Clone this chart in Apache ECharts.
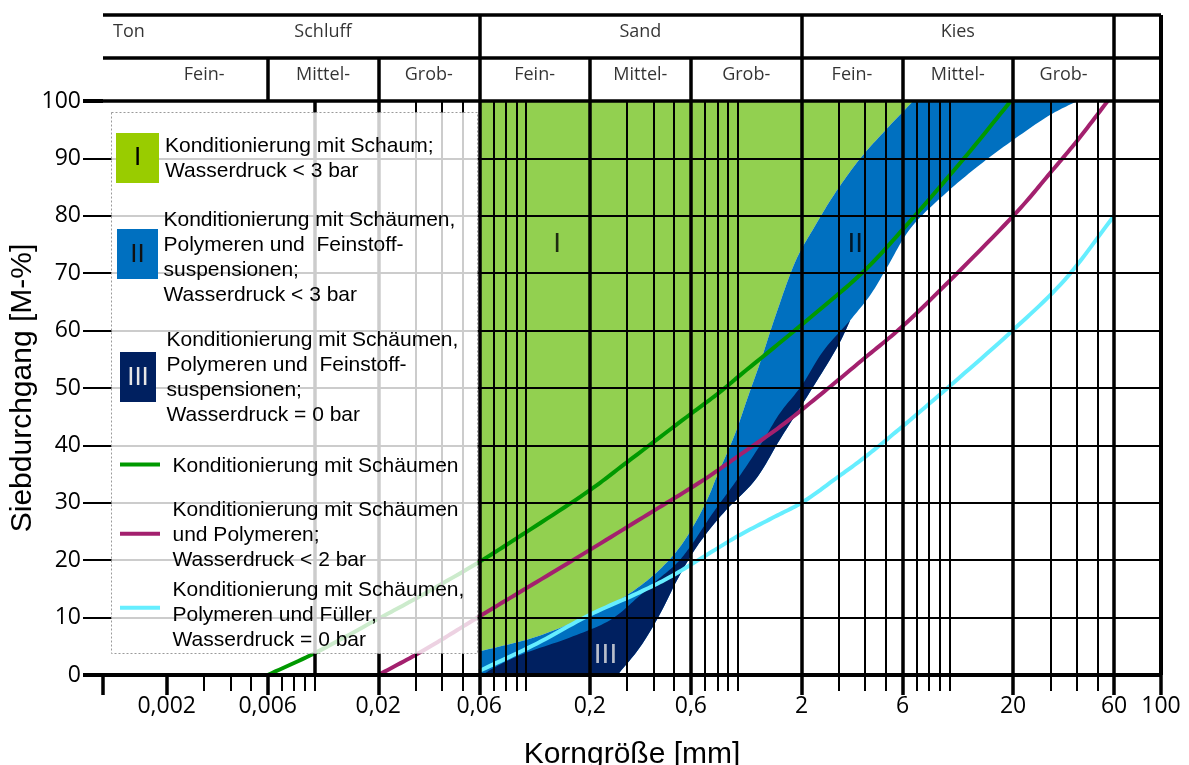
<!DOCTYPE html>
<html lang="de">
<head>
<meta charset="utf-8">
<title>Sieblinien und Konditionierungsbereiche</title>
<script src="https://cdn.jsdelivr.net/npm/echarts@6/dist/echarts.min.js"></script>
<style>
  html, body { margin: 0; padding: 0; background: #fff; }
  #chart { width: 1189px; height: 765px; }
</style>
</head>
<body>
<div id="chart"></div>
<script>
// Korngröße in mm, Siebdurchgang in M-%

// ---- Achsen ----
const sizeMin = 0.001;
const sizeMax = 100;
const majorSizes = [0.001, 0.002, 0.006, 0.02, 0.06, 0.2, 0.6, 2, 6, 20, 60, 100];
const minorSizes = [0.003, 0.004, 0.005, 0.007, 0.008, 0.009, 0.01,
                    0.03, 0.04, 0.05, 0.07, 0.08, 0.09, 0.1,
                    0.3, 0.4, 0.5, 0.7, 0.8, 0.9, 1,
                    3, 4, 5, 7, 8, 9, 10,
                    30, 40, 50];
const sizeLabelValues = [0.002, 0.006, 0.02, 0.06, 0.2, 0.6, 2, 6, 20, 60, 100];
const sizeLabels = ['0,002', '0,006', '0,02', '0,06', '0,2', '0,6', '2', '6', '20', '60', '100'];
const percentTicks = [0, 10, 20, 30, 40, 50, 60, 70, 80, 90, 100];

// ---- Kopfzeile: Bodenarten ----
const mainClassNames = ['Ton', 'Schluff', 'Sand', 'Kies'];
const mainClassBounds = [0.001, 0.002, 0.06, 2, 60];
const subClassNames = ['Fein-', 'Mittel-', 'Grob-'];
const subClassBounds = [0.002, 0.006, 0.02, 0.06, 0.2, 0.6, 2, 6, 20, 60];

// ---- Bereiche I, II, III ----
// Grenze zwischen Bereich I und Bereich II (fein -> grob)
const boundaryI_II = [
  [0.06, 4.1], [0.1125, 6.7], [0.2, 10.5], [0.29, 13.6], [0.4, 17.4], [0.52, 21.8],
  [0.64, 27], [0.74, 31.7], [0.783, 34], [0.97, 42], [1.125, 48.8], [1.28, 54.6],
  [1.53, 63.3], [1.9, 72.6], [2.28, 77.8], [2.84, 83.6], [3.79, 90], [5.07, 95.2], [6.75, 100]
];
// grobe Grenze von Bereich II oberhalb von Bereich III (grob -> fein)
const zoneIIRight = [
  [40.2, 100], [30, 97.6], [20, 93.2], [13.5, 88.5], [9.39, 83.6], [6.54, 77.8],
  [5.07, 71], [4.23, 66.2], [3.4, 61.8]
];
// grobe Grenze von Bereich III (grob -> fein)
const zoneIIIRight = [
  [3.4, 61.8], [2.99, 57.5], [2.15, 48.8], [1.58, 41], [1.21, 34], [0.854, 28.2],
  [0.641, 22.4], [0.516, 16.5], [0.43, 10.7], [0.346, 4.9], [0.27, 0]
];
// feine Grenze von Bereich III (fein -> grob)
const zoneIIILeft = [
  [0.062, 0], [0.07, 1.2], [0.094, 3.5], [0.16, 6.5], [0.25, 9.6], [0.334, 13.4],
  [0.415, 16.5], [0.516, 19.5], [0.597, 22.4], [0.755, 28], [0.991, 34], [1.3, 40.5],
  [1.58, 45.6], [2.0, 50.4], [2.54, 56.5], [3.4, 61.8]
];
const zoneNames = ['I', 'II', 'III'];
const zoneLabelPos = [[0.14, 75], [3.59, 75], [0.237, 3.5]];

// ---- Sieblinien ----
const foamLine = [
  [0.006, 0], [0.01, 3.8], [0.02, 9.8], [0.03, 13.3], [0.06, 19.7], [0.1, 24.9],
  [0.2, 32.2], [0.3, 37.1], [0.6, 45.5], [0.83, 49.4], [1, 51.9], [2, 61],
  [3.93, 70.3], [6.08, 77.8], [12.1, 90.6], [19.5, 100]
];
const polymerLine = [
  [0.02, 0], [0.03, 3.5], [0.04, 6.2], [0.06, 10.2], [0.1, 15.1], [0.2, 21.8],
  [0.4, 28.6], [0.69, 34], [1, 38.1], [1.59, 43.3], [2.45, 48.8], [4, 55.3],
  [5.86, 60.4], [10.1, 68.8], [21.6, 81.3], [30, 87.5], [40, 93], [56, 100]
];
const fillerLine = [
  [0.06, 0.7], [0.1125, 5.5], [0.2, 10.5], [0.334, 14.2], [0.48, 17.1], [0.69, 20.6],
  [1, 24.2], [1.5, 27.6], [2, 30], [3, 34.6], [4, 38], [6, 43.3], [10, 50.3],
  [20, 60.1], [35, 68.8], [60, 80]
];

// ---- Legende ----
const legendTexts = [
  'Konditionierung mit Schaum;\nWasserdruck < 3 bar',
  'Konditionierung mit Schäumen,\nPolymeren und  Feinstoff-\nsuspensionen;\nWasserdruck < 3 bar',
  'Konditionierung mit Schäumen,\nPolymeren und  Feinstoff-\nsuspensionen;\nWasserdruck = 0 bar',
  'Konditionierung mit Schäumen',
  'Konditionierung mit Schäumen\nund Polymeren;\nWasserdruck < 2 bar',
  'Konditionierung mit Schäumen,\nPolymeren und Füller,\nWasserdruck = 0 bar'
];

// ------------------------------------------------------------------
const BLACK = '#000';
const colZoneI = '#92D050', colZoneII = '#0070C0', colZoneIII = '#002060';
const colFoam = '#009900', colPolymer = '#A3206E', colFiller = '#66EEFF';
const tickFont = 'Open Sans';
const textFont = 'Liberation Sans';

// centripetal Catmull-Rom through the projected points (pixel space)
function spline(api, list, steps) {
  const P = list.map(d => api.coord(d));
  const n = P.length;
  if (n < 3) return P;
  const ext = [[2 * P[0][0] - P[1][0], 2 * P[0][1] - P[1][1]]].concat(P,
    [[2 * P[n - 1][0] - P[n - 2][0], 2 * P[n - 1][1] - P[n - 2][1]]]);
  const dist = (a, b) => Math.sqrt(Math.hypot(b[0] - a[0], b[1] - a[1])) || 1e-4;
  const out = [P[0]];
  for (let i = 1; i < ext.length - 2; i++) {
    const p0 = ext[i - 1], p1 = ext[i], p2 = ext[i + 1], p3 = ext[i + 2];
    const t0 = 0, t1 = t0 + dist(p0, p1), t2 = t1 + dist(p1, p2), t3 = t2 + dist(p2, p3);
    for (let s = 1; s <= steps; s++) {
      const t = t1 + (t2 - t1) * s / steps;
      const lerp = (a, b, ta, tb) => [
        (tb - t) / (tb - ta) * a[0] + (t - ta) / (tb - ta) * b[0],
        (tb - t) / (tb - ta) * a[1] + (t - ta) / (tb - ta) * b[1]
      ];
      const A1 = lerp(p0, p1, t0, t1), A2 = lerp(p1, p2, t1, t2), A3 = lerp(p2, p3, t2, t3);
      const B1 = lerp(A1, A2, t0, t2), B2 = lerp(A2, A3, t1, t3);
      out.push(lerp(B1, B2, t1, t2));
    }
  }
  return out;
}

function zoneSeries(name, color, build) {
  return {
    type: 'custom', name: name, xAxisIndex: 0, yAxisIndex: 0, z: 1, silent: true,
    animation: false, data: [[1, 50]],
    renderItem: function (params, api) {
      return { type: 'polygon', shape: { points: build(api) }, style: { fill: color } };
    }
  };
}

const zoneI = zoneSeries('I', colZoneI, api => {
  const b = spline(api, boundaryI_II, 12);
  return [api.coord([0.06, 100])].concat(b.slice().reverse());
});
const zoneII = zoneSeries('II', colZoneII, api => {
  return spline(api, boundaryI_II, 12)
    .concat(spline(api, zoneIIRight, 12))
    .concat(spline(api, zoneIIIRight, 12).slice(1))
    .concat([api.coord([0.06, 0])]);
});
const zoneIII = zoneSeries('III', colZoneIII, api => {
  return spline(api, zoneIIILeft, 12).concat(spline(api, zoneIIIRight, 12).slice(1));
});

function curve(name, data, color) {
  return {
    type: 'custom', name: name, xAxisIndex: 0, yAxisIndex: 0, z: 2, silent: true,
    animation: false, data: [[1, 50]],
    renderItem: function (params, api) {
      return { type: 'polyline', shape: { points: spline(api, data, 12) },
        style: { stroke: color, lineWidth: 4, fill: null, lineJoin: 'round' } };
    }
  };
}

const markLineBase = {
  silent: true, symbol: ['none', 'none'], label: { show: false }, animation: false, z: 5,
  emphasis: { disabled: true },
  lineStyle: { color: BLACK, type: 'solid', opacity: 1 }
};

// Raster des Diagramms
const gridLines = []
  .concat(majorSizes.map(v => ({ xAxis: v, lineStyle: { width: (v === sizeMin || v === sizeMax) ? 4 : 3.5 } })))
  .concat(minorSizes.map(v => ({ xAxis: v, lineStyle: { width: 2 } })))
  .concat(percentTicks.map(p => ({ yAxis: p, lineStyle: { width: p === 0 ? 4 : (p === 100 ? 3.5 : 2) } })));

// Linien der Kopfzeile
const fullDividers = mainClassBounds.concat([sizeMax]);
const rowDividers = subClassBounds.filter(v => mainClassBounds.indexOf(v) < 0);
const headLines = [{ yAxis: 2, lineStyle: { width: 3.5 } }, { yAxis: 1, lineStyle: { width: 3.5 } }]
  .concat(fullDividers.map(v => ({ xAxis: v, lineStyle: { width: (v === sizeMin || v === sizeMax) ? 4 : 3.5 } })))
  .concat(rowDividers.map(v => [{ coord: [v, 0], lineStyle: { width: 3.5 } }, { coord: [v, 1] }]));

const gmean = (a, b) => Math.sqrt(a * b);
const headLabels = [];
mainClassNames.forEach((nm, i) => {
  const item = { name: nm, value: [gmean(mainClassBounds[i], mainClassBounds[i + 1]), 1.6] };
  if (i === 0) { item.value = [mainClassBounds[0], 1.6]; item.label = { align: 'left', offset: [10, 0] }; }
  headLabels.push(item);
});
for (let i = 0; i < subClassBounds.length - 1; i++) {
  const item = { name: subClassNames[i % 3], value: [gmean(subClassBounds[i], subClassBounds[i + 1]), 0.6] };
  if (i === 0) item.label = { offset: [-13, 0] };
  headLabels.push(item);
}

const hidden = { axisLine: { show: false }, axisTick: { show: false }, axisLabel: { show: false },
  splitLine: { show: false }, minorTick: { show: false }, minorSplitLine: { show: false } };

const option = {
  backgroundColor: '#fff',
  animation: false,
  grid: [
    { left: 103, top: 101, width: 1058, height: 574, outerBoundsMode: 'none', containLabel: false },
    { left: 103, top: 15, width: 1058, height: 86, outerBoundsMode: 'none', containLabel: false }
  ],
  xAxis: [
    Object.assign({}, hidden, {
      type: 'log', logBase: 10, min: sizeMin, max: sizeMax, gridIndex: 0, position: 'bottom',
      axisTick: { show: true, customValues: majorSizes, length: 20, lineStyle: { color: BLACK, width: 3.5 } },
      axisLabel: {
        show: true, customValues: sizeLabelValues, margin: 20, color: BLACK,
        fontFamily: tickFont, fontSize: 23,
        formatter: v => {
          const k = sizeLabelValues.findIndex(s => Math.abs(Math.log10(s) - Math.log10(v)) < 1e-6);
          return k >= 0 ? sizeLabels[k] : '';
        }
      },
      name: 'Korngröße [mm]', nameLocation: 'middle', nameGap: 65, nameMoveOverlap: false,
      nameTextStyle: { fontFamily: textFont, fontSize: 30, color: BLACK }
    }),
    Object.assign({}, hidden, {
      type: 'log', logBase: 10, min: sizeMin, max: sizeMax, gridIndex: 0, position: 'bottom',
      axisTick: { show: true, customValues: minorSizes, length: 16, lineStyle: { color: BLACK, width: 2 } }
    }),
    Object.assign({}, hidden, { type: 'log', logBase: 10, min: sizeMin, max: sizeMax, gridIndex: 1 })
  ],
  yAxis: [
    Object.assign({}, hidden, {
      type: 'value', min: 0, max: 100, interval: 10, gridIndex: 0, position: 'left',
      axisTick: { show: true, length: 20, lineStyle: { color: BLACK, width: 2 } },
      axisLabel: { show: true, margin: 22, color: BLACK, fontFamily: tickFont, fontSize: 23 },
      name: 'Siebdurchgang [M-%]', nameLocation: 'middle', nameGap: 65, nameMoveOverlap: false,
      nameTextStyle: { fontFamily: textFont, fontSize: 30, color: BLACK }
    }),
    Object.assign({}, hidden, {
      type: 'value', min: 0, max: 100, gridIndex: 0, position: 'left',
      axisTick: { show: true, customValues: [0, 100], length: 20, lineStyle: { color: BLACK, width: 4 } }
    }),
    Object.assign({}, hidden, { type: 'value', min: 0, max: 2, gridIndex: 1 })
  ],
  series: [
    zoneI, zoneII, zoneIII,
    curve(legendTexts[3], foamLine, colFoam),
    curve(legendTexts[4], polymerLine, colPolymer),
    curve(legendTexts[5], fillerLine, colFiller),
    {
      type: 'scatter', xAxisIndex: 0, yAxisIndex: 0, symbolSize: 0, z: 6, silent: true,
      data: zoneNames.map((nm, i) => ({ name: nm, value: zoneLabelPos[i],
        label: { color: i === 2 ? '#e6e6e6' : '#000' } })),
      label: { show: true, position: 'inside', formatter: '{b}', fontFamily: textFont, fontSize: 28 }
    },
    {
      type: 'line', xAxisIndex: 0, yAxisIndex: 0, data: [[1, 50]], symbol: 'none', silent: true,
      lineStyle: { opacity: 0 }, z: 5,
      markLine: Object.assign({}, markLineBase, { data: gridLines })
    },
    {
      type: 'line', xAxisIndex: 2, yAxisIndex: 2, data: [[1, 1]], symbol: 'none', silent: true,
      lineStyle: { opacity: 0 }, z: 5,
      markLine: Object.assign({}, markLineBase, { data: headLines })
    },
    {
      type: 'scatter', xAxisIndex: 2, yAxisIndex: 2, symbolSize: 0, z: 6, silent: true,
      data: headLabels,
      label: { show: true, position: 'inside', formatter: '{b}', color: BLACK,
        fontFamily: tickFont, fontSize: 18 }
    }
  ],
  graphic: [
    { type: 'rect', z: 10, silent: true,
      shape: { x: 111.5, y: 112.5, width: 366, height: 541 },
      style: { fill: 'rgba(255,255,255,0.8)', stroke: '#9a9a9a', lineWidth: 1, lineDash: [2, 2] } },
    // Bereich I
    { type: 'rect', z: 11, silent: true, shape: { x: 116, y: 133, width: 43, height: 50 }, style: { fill: '#99CC00' } },
    { type: 'text', z: 12, silent: true, style: { text: zoneNames[0], x: 137.5, y: 158, align: 'center', verticalAlign: 'middle',
      font: '26px "Liberation Sans"', fill: '#000' } },
    { type: 'text', z: 12, silent: true, style: { text: legendTexts[0], x: 165, y: 146 - 12.5, verticalAlign: 'top',
      font: '21px "Liberation Sans"', lineHeight: 25, fill: '#000' } },
    // Bereich II
    { type: 'rect', z: 11, silent: true, shape: { x: 117, y: 229, width: 41, height: 50 }, style: { fill: colZoneII } },
    { type: 'text', z: 12, silent: true, style: { text: zoneNames[1], x: 137.5, y: 255, align: 'center', verticalAlign: 'middle',
      font: '26px "Liberation Sans"', fill: '#111' } },
    { type: 'text', z: 12, silent: true, style: { text: legendTexts[1], x: 163.5, y: 220 - 12.5, verticalAlign: 'top',
      font: '21px "Liberation Sans"', lineHeight: 25, fill: '#000' } },
    // Bereich III
    { type: 'rect', z: 11, silent: true, shape: { x: 120, y: 352, width: 36, height: 50 }, style: { fill: colZoneIII } },
    { type: 'text', z: 12, silent: true, style: { text: zoneNames[2], x: 138, y: 378, align: 'center', verticalAlign: 'middle',
      font: '26px "Liberation Sans"', fill: '#e6e6e6' } },
    { type: 'text', z: 12, silent: true, style: { text: legendTexts[2], x: 166.5, y: 340.7 - 12.5, verticalAlign: 'top',
      font: '21px "Liberation Sans"', lineHeight: 25, fill: '#000' } },
    // Sieblinien
    { type: 'line', z: 11, silent: true, shape: { x1: 120, y1: 464.5, x2: 160, y2: 464.5 }, style: { stroke: colFoam, lineWidth: 4 } },
    { type: 'text', z: 12, silent: true, style: { text: legendTexts[3], x: 172.5, y: 466.7 - 12.5, verticalAlign: 'top',
      font: '21px "Liberation Sans"', lineHeight: 25, fill: '#000' } },
    { type: 'line', z: 11, silent: true, shape: { x1: 120, y1: 533.8, x2: 160, y2: 533.8 }, style: { stroke: colPolymer, lineWidth: 4 } },
    { type: 'text', z: 12, silent: true, style: { text: legendTexts[4], x: 172.5, y: 510.7 - 12.5, verticalAlign: 'top',
      font: '21px "Liberation Sans"', lineHeight: 25, fill: '#000' } },
    { type: 'line', z: 11, silent: true, shape: { x1: 120, y1: 607.8, x2: 160, y2: 607.8 }, style: { stroke: colFiller, lineWidth: 4 } },
    { type: 'text', z: 12, silent: true, style: { text: legendTexts[5], x: 172.5, y: 590 - 12.5, verticalAlign: 'top',
      font: '21px "Liberation Sans"', lineHeight: 25, fill: '#000' } }
  ]
};

const chart = echarts.init(document.getElementById('chart'), null, { renderer: 'canvas' });
chart.setOption(option);
</script>
</body>
</html>
